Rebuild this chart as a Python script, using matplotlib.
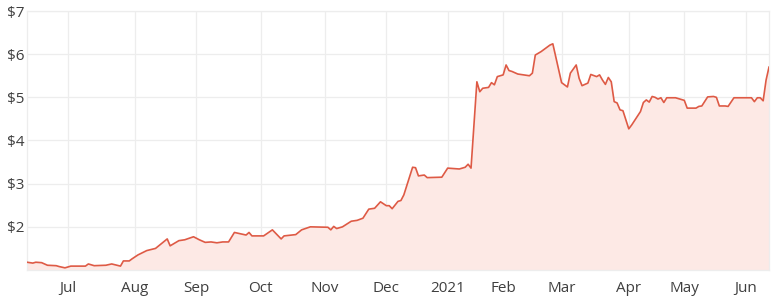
import matplotlib
matplotlib.use("Agg")
import matplotlib.pyplot as plt
import pandas as pd
import numpy as np

# Trading calendar (ASX), one-year window
start_date = "2020-06-11"
end_date = "2021-06-11"
holidays = ["2020-12-25", "2020-12-28", "2021-01-01", "2021-01-26",
            "2021-04-02", "2021-04-05", "2021-04-26"]

# Share price observations (date, close in $)
dates = [
    "2020-06-11", "2020-06-15", "2020-06-16", "2020-06-18", "2020-06-22", "2020-06-25",
    "2020-06-26", "2020-06-30", "2020-07-02", "2020-07-09", "2020-07-10", "2020-07-14",
    "2020-07-20", "2020-07-22", "2020-07-27", "2020-07-28", "2020-07-30", "2020-07-31",
    "2020-08-04", "2020-08-07", "2020-08-12", "2020-08-18", "2020-08-19", "2020-08-24",
    "2020-08-26", "2020-08-31", "2020-09-02", "2020-09-04", "2020-09-08", "2020-09-10",
    "2020-09-14", "2020-09-16", "2020-09-18", "2020-09-24", "2020-09-25", "2020-09-28",
    "2020-10-02", "2020-10-07", "2020-10-12", "2020-10-13", "2020-10-19", "2020-10-21",
    "2020-10-26", "2020-11-03", "2020-11-04", "2020-11-05", "2020-11-06", "2020-11-10",
    "2020-11-13", "2020-11-17", "2020-11-19", "2020-11-23", "2020-11-25", "2020-11-27",
    "2020-12-01", "2020-12-02", "2020-12-03", "2020-12-07", "2020-12-08", "2020-12-09",
    "2020-12-14", "2020-12-15", "2020-12-16", "2020-12-18", "2020-12-21", "2020-12-30",
    "2021-01-04", "2021-01-08", "2021-01-12", "2021-01-13", "2021-01-14", "2021-01-18",
    "2021-01-19", "2021-01-20", "2021-01-22", "2021-01-25", "2021-01-27", "2021-01-28",
    "2021-01-29", "2021-02-01", "2021-02-02", "2021-02-03", "2021-02-04", "2021-02-08",
    "2021-02-12", "2021-02-15", "2021-02-16", "2021-02-18", "2021-02-23", "2021-02-24",
    "2021-03-01", "2021-03-03", "2021-03-04", "2021-03-08", "2021-03-09", "2021-03-10",
    "2021-03-12", "2021-03-15", "2021-03-17", "2021-03-18", "2021-03-19", "2021-03-22",
    "2021-03-23", "2021-03-24", "2021-03-25", "2021-03-26", "2021-03-29", "2021-03-30",
    "2021-04-01", "2021-04-06", "2021-04-09", "2021-04-12", "2021-04-13", "2021-04-14",
    "2021-04-15", "2021-04-16", "2021-04-19", "2021-04-20", "2021-04-21", "2021-04-22",
    "2021-04-28", "2021-05-03", "2021-05-04", "2021-05-07", "2021-05-10", "2021-05-11",
    "2021-05-13", "2021-05-17", "2021-05-18", "2021-05-19", "2021-05-21", "2021-05-24",
    "2021-05-26", "2021-06-03", "2021-06-04", "2021-06-07", "2021-06-08", "2021-06-09",
    "2021-06-10", "2021-06-11",
]
prices = [
    1.18, 1.16, 1.18, 1.17, 1.11, 1.10,
    1.08, 1.05, 1.09, 1.09, 1.14, 1.10,
    1.11, 1.14, 1.09, 1.21, 1.21, 1.26,
    1.35, 1.45, 1.50, 1.72, 1.56, 1.68,
    1.70, 1.77, 1.70, 1.64, 1.65, 1.63,
    1.65, 1.65, 1.87, 1.81, 1.87, 1.79,
    1.79, 1.93, 1.72, 1.79, 1.82, 1.93,
    2.00, 1.99, 1.93, 2.01, 1.96, 2.00,
    2.13, 2.15, 2.20, 2.41, 2.43, 2.58,
    2.49, 2.49, 2.42, 2.59, 2.61, 2.74,
    3.38, 3.37, 3.18, 3.20, 3.14, 3.15,
    3.36, 3.34, 3.38, 3.45, 3.36, 5.36,
    5.13, 5.21, 5.23, 5.34, 5.29, 5.48,
    5.50, 5.52, 5.75, 5.62, 5.60, 5.54,
    5.50, 5.56, 5.98, 6.06, 6.21, 6.24,
    5.34, 5.24, 5.56, 5.75, 5.44, 5.27,
    5.33, 5.53, 5.48, 5.52, 5.40, 5.30,
    5.46, 5.36, 4.90, 4.87, 4.71, 4.69,
    4.27, 4.36, 4.67, 4.88, 4.94, 4.89,
    5.02, 5.00, 4.96, 4.99, 4.88, 4.99,
    4.99, 4.93, 4.75, 4.75, 4.79, 4.80,
    5.01, 5.02, 5.00, 4.80, 4.80, 4.79,
    4.99, 4.99, 4.90, 4.99, 4.99, 4.92,
    5.40, 5.70,
]

y_ticks = [2, 3, 4, 5, 6, 7]
y_min, y_max = 1, 7

line_color = "#DE5A45"
fill_color = "#FDE9E5"
grid_color = "#EDEDED"
text_color = "#3F3F3F"

plt.rcParams["font.family"] = ["Open Sans", "DejaVu Sans"]

calendar = pd.bdate_range(start_date, end_date)
calendar = calendar[~calendar.isin(pd.to_datetime(holidays))]
x = calendar.get_indexer(pd.to_datetime(dates))
y = np.array(prices)

fig = plt.figure(figsize=(7.8, 3.05), dpi=100)
ax = fig.add_axes([27 / 780, 1 - 270 / 305, (769 - 27) / 780, (270 - 11) / 305])

ax.fill_between(x, y, y_min, color=fill_color, linewidth=0, zorder=1)
ax.plot(x, y, color=line_color, linewidth=1.2, zorder=3)

ax.set_xlim(0, len(calendar) - 1)
ax.set_ylim(y_min, y_max)

# Month ticks at first trading day of each month (skip the partial first month)
months = calendar.to_period("M")
first_idx = [i for i in range(1, len(calendar)) if months[i] != months[i - 1]]
labels = [("%d" % calendar[i].year) if calendar[i].month == 1 else calendar[i].strftime("%b")
          for i in first_idx]
ax.set_xticks(first_idx)
ax.set_xticklabels(labels)
ax.set_yticks(y_ticks)
ax.set_yticklabels(["$%d" % v for v in y_ticks])

ax.grid(True, color=grid_color, linewidth=0.9, zorder=0)
ax.set_axisbelow(True)
for s in ax.spines.values():
    s.set_color(grid_color)
    s.set_linewidth(0.9)
ax.tick_params(axis="both", length=0, colors=text_color, labelsize=11)
ax.tick_params(axis="x", pad=8)
ax.tick_params(axis="y", pad=2)

fig.savefig("out.png", dpi=100, facecolor="white")
